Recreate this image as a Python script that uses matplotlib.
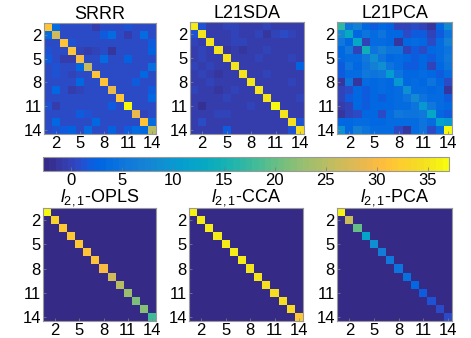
import numpy as np
import matplotlib
matplotlib.use("Agg")
import matplotlib.pyplot as plt
from matplotlib.colors import ListedColormap

plt.rcParams['font.family'] = ['Liberation Sans', 'DejaVu Sans']
plt.rcParams['mathtext.fontset'] = 'custom'
plt.rcParams['mathtext.rm'] = 'Liberation Sans'
plt.rcParams['mathtext.it'] = 'Liberation Sans:italic'

parula_data = [
[0.2081,0.1663,0.5292],[0.2116,0.1898,0.5777],[0.2123,0.2138,0.6270],[0.2081,0.2386,0.6771],
[0.1959,0.2645,0.7279],[0.1707,0.2919,0.7792],[0.1253,0.3242,0.8303],[0.0591,0.3598,0.8683],
[0.0117,0.3875,0.8820],[0.0060,0.4086,0.8828],[0.0165,0.4266,0.8786],[0.0329,0.4430,0.8720],
[0.0498,0.4586,0.8641],[0.0629,0.4737,0.8554],[0.0723,0.4887,0.8467],[0.0779,0.5040,0.8384],
[0.0793,0.5200,0.8312],[0.0749,0.5375,0.8263],[0.0641,0.5570,0.8240],[0.0488,0.5772,0.8228],
[0.0343,0.5966,0.8199],[0.0265,0.6137,0.8135],[0.0239,0.6287,0.8038],[0.0231,0.6418,0.7913],
[0.0228,0.6535,0.7768],[0.0267,0.6642,0.7607],[0.0384,0.6743,0.7436],[0.0590,0.6838,0.7254],
[0.0843,0.6928,0.7062],[0.1133,0.7015,0.6859],[0.1453,0.7098,0.6646],[0.1801,0.7177,0.6424],
[0.2178,0.7250,0.6193],[0.2586,0.7317,0.5954],[0.3022,0.7376,0.5712],[0.3482,0.7424,0.5473],
[0.3953,0.7459,0.5244],[0.4420,0.7481,0.5033],[0.4871,0.7491,0.4840],[0.5300,0.7491,0.4661],
[0.5709,0.7485,0.4494],[0.6099,0.7473,0.4337],[0.6473,0.7456,0.4188],[0.6834,0.7435,0.4044],
[0.7184,0.7411,0.3905],[0.7525,0.7384,0.3768],[0.7858,0.7356,0.3633],[0.8185,0.7327,0.3498],
[0.8507,0.7299,0.3360],[0.8824,0.7274,0.3217],[0.9139,0.7258,0.3063],[0.9450,0.7261,0.2886],
[0.9739,0.7314,0.2666],[0.9938,0.7455,0.2403],[0.9990,0.7653,0.2164],[0.9955,0.7861,0.1967],
[0.9880,0.8066,0.1794],[0.9789,0.8271,0.1633],[0.9697,0.8481,0.1475],[0.9626,0.8705,0.1309],
[0.9589,0.8949,0.1132],[0.9598,0.9218,0.0948],[0.9661,0.9514,0.0755],[0.9763,0.9831,0.0538]]
parula = ListedColormap(parula_data, name='parula')

titles = ['SRRR', 'L21SDA', 'L21PCA', r'$l_{2,1}$-OPLS', r'$l_{2,1}$-CCA', r'$l_{2,1}$-PCA']
tick_labels = [2, 5, 8, 11, 14]
cbar_ticks = [0, 5, 10, 15, 20, 25, 30, 35]
vmin, vmax = -2.7, 37.1

srrr = np.array([
[31, 4, 1, 1, 0.5, 1, -0.5, 0.5, 1, 0.5, 1.5, 0.5, 0.5, 1],
[4, 27, 1, 0.5, 1, 1, 1, 2, 4, 1, -0.5, 1, 4, 1],
[1, 1, 31, 1.5, 0.5, 1, 1, 0.5, 1, 1, 1, 1, 1, 2],
[1.5, 1, 0.5, 31, 0, -0.5, 0, 0.5, -1, 0.5, 0.5, 1, 1, 2.5],
[2, 1, -0.5, -0.5, 30, 0.5, 1, 4, 0.5, 0.5, 2.5, 1, 1, 1],
[1, 1.5, 1, 0.5, 3, 26, 1, 1, 1, 1, 1, 1, 0.5, 4.5],
[0.5, 1.5, 1, 0, 1, 1, 31, 1, 0.5, 1, 1, 0.5, 3.5, 1],
[1, 1, 1, 1, 3.5, 1, 1, 31, 1, 1, 1, 2, 1, 1],
[1, 3.5, 1, -0.5, 0, 1, 0.5, 1, 29, 1, 1, 1, 1, 2],
[1, 1, 1, 0.5, 1, 1, 0.5, 1, 1, 31, 1, 1, 1, 3],
[1.5, -0.5, 1, 0.5, 1, 1, 0.5, 1, 2, 1, 37, 1, 1, 1],
[1, 1, 1, 1, 2, 1.5, 1, 0.5, 1, 1, 1, 29, 0, 1],
[1, 3.5, 1, 1, 1, 1, 3.5, 1, 1, 1, 1, 1, 31, 4],
[1, 1.5, 2, 2.5, 1, 4, 1, 1, 2.5, 1, 2, 4, 3, 25]])

l21sda = np.array([
[35.5, 1.5, -0.5, -0.5, 0, 0, -0.5, -0.5, -0.5, 0, -0.5, -0.5, -0.5, -0.5],
[1.5, 35, -0.5, -0.5, -0.5, 0, -0.5, -0.5, 0, -1, 0, 0.5, 0, -0.5],
[0, -0.5, 35, -0.5, -0.5, 0, 0, -0.5, -0.5, -0.5, -0.5, -0.5, -0.5, -0.5],
[-0.5, 0, -0.5, 35, -1, -0.5, -1, -0.5, -0.5, 0, -0.5, -0.5, -0.5, -0.5],
[-0.5, 0, -0.5, -0.5, 35, -0.5, -0.5, -0.5, 0, -0.5, -0.5, -0.5, 0, -0.5],
[0, -0.5, 0, -0.5, -0.5, 35, -0.5, -0.5, -0.5, -0.5, -0.5, -0.5, -0.5, 2.5],
[-0.5, 0, -0.5, -1, -0.5, -0.5, 35, -0.5, -0.5, 0, -0.5, -0.5, -0.5, -0.5],
[-0.5, -0.5, 0, -0.5, -0.5, -0.5, -0.5, 35, -0.5, -0.5, -0.5, -0.5, 0, -0.5],
[0, -0.5, -0.5, -1, -0.5, 0, -0.5, -0.5, 35, -0.5, -0.5, -0.5, -0.5, -0.5],
[-0.5, -0.5, -0.5, -0.5, 0, -0.5, -0.5, -0.5, -0.5, 35, -0.5, -0.5, -0.5, 0],
[-0.5, -1.5, -0.5, -0.5, -0.5, -0.5, -0.5, 0, -0.5, -0.5, 36.5, -0.5, -0.5, -0.5],
[-0.5, -0.5, -0.5, 0, 0, -0.5, -0.5, -0.5, -0.5, -0.5, -0.5, 35, -0.5, -0.5],
[-0.5, 1, -0.5, -0.5, -0.5, -0.5, -0.5, -0.5, -0.5, -0.5, -0.5, -0.5, 34.5, 1.5],
[-0.5, -0.5, -0.5, -0.5, 2, -0.5, -0.5, -0.5, -0.5, -0.5, -0.5, -0.5, 1.5, 34]])

l21pca = np.array([
[17, 5, 7, 3, 2, 3, 2.5, 0, 0, 1, 0, -1, 3, 8],
[8, 13, 3, 5, 4, 5, 3, 3, 1, 2, 2, 0, 2, 5],
[6, 3, 12.5, 0, 4, 4, 3, -1, 3, 4, 3, 0.5, 4, 7],
[3, 6, 0, 14.5, 5, 7, 5, 5, 0, 2, 1, 3, 4, 5],
[3, 4, 4, 6, 9, 5, 3, 4, 3, 2, 3, 2, 4, 6],
[2, 5, 3, 5, 7, 9, 5, 4, 2, 2, 3, 0, 3, 5],
[2, 4, 4, 6, 5, 6, 10.5, 5, 3, 3, 4, 3, 2, 4],
[-1, 5, -1, 4, 3, 4, 3, 10, 3, 4, 3, 5, 3, 1],
[0, 1, 3, 2, 3, 4, 3, 4, 9, 4, 4, 3, 4, -1],
[0, 2, 3, 2, 3, 2, 3, 4, 5, 8, 5, 4, 4, 2],
[-0.5, 0, 3, 2, 3, 3, 3, 4, 4, 5, 10, 6, 4, 3],
[-1, 0, 1, 3, 3, 1, 4, 6, 5, 5, 6, 12.5, 3, 2],
[3, 3, 4, 4, 3, 3, 4, 4, 4, 4, 5, 4, 11, 10],
[9, 3, 7, 5, 4, 4, 4, 1, -1, 4, 5, 1, 4, 37]])

off_value = -2.7
opls_diag = [36.5, 33, 32, 32, 32, 31, 31, 30, 27, 25, 23, 21, 22, 18]
cca_diag = [36, 35.5, 35.5, 35.5, 35.5, 35.5, 35.5, 35, 35, 34.5, 34, 34, 33.5, 32]
pca_diag = [36, 26, 20, 12, 9, 6.5, 6, 5, 4.5, 3, 2, 1.5, 1, 0.5]

def diag_matrix(d):
    m = np.full((len(d), len(d)), off_value)
    np.fill_diagonal(m, d)
    return m

mats = [srrr, l21sda, l21pca, diag_matrix(opls_diag), diag_matrix(cca_diag), diag_matrix(pca_diag)]

W, H = 471, 338
fig = plt.figure(figsize=(W / 100, H / 100), dpi=100)

rects_px = [(44, 23, 156, 134), (190, 22, 304, 134), (337, 22, 452, 134),
            (43, 208, 156, 321), (189, 208, 303, 321), (337, 208, 452, 321)]

im = None
for mat, title, (x0, y0, x1, y1) in zip(mats, titles, rects_px):
    ax = fig.add_axes([x0 / W, 1 - y1 / H, (x1 - x0) / W, (y1 - y0) / H])
    n = mat.shape[0]
    im = ax.imshow(mat, cmap=parula, vmin=vmin, vmax=vmax, aspect='auto',
                   extent=(0.5, n + 0.5, n + 0.5, 0.5), interpolation='nearest')
    ax.set_xticks(tick_labels)
    ax.set_yticks(tick_labels)
    ax.set_xticklabels([str(t) for t in tick_labels])
    ax.set_yticklabels([str(t) for t in tick_labels])
    ax.tick_params(direction='in', length=2, width=0.5, color='#888888',
                   labelsize=12, pad=1.5)
    for s in ax.spines.values():
        s.set_color('#999999')
        s.set_linewidth(0.8)
    ax.set_title(title, fontsize=13, pad=2)

cax = fig.add_axes([43 / W, 1 - 171 / H, (449 - 43) / W, 14 / H])
cb = fig.colorbar(im, cax=cax, orientation='horizontal')
cb.set_ticks(cbar_ticks)
cax.tick_params(direction='in', length=3, width=0.5, color='#777777', labelsize=12, pad=1.5)
cb.outline.set_edgecolor('#999999')
cb.outline.set_linewidth(0.8)

fig.savefig('out.png', dpi=100)
